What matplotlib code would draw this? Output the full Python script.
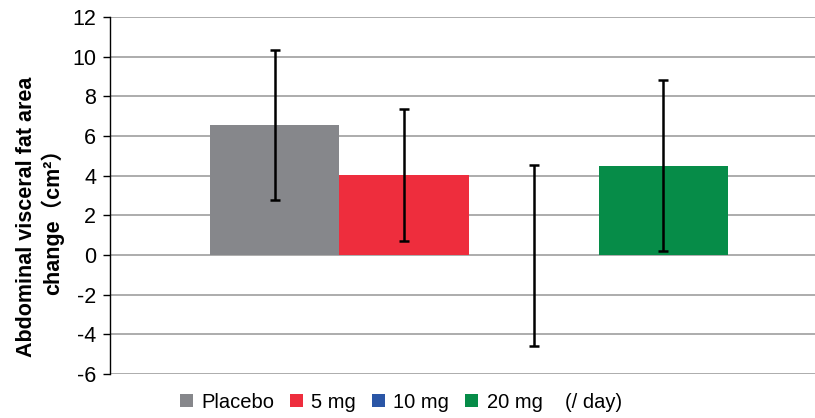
import numpy as np
import matplotlib.pyplot as plt

plt.rcParams['font.family'] = ['Liberation Sans', 'Noto Sans CJK JP', 'DejaVu Sans']

# datos
groups = ["Placebo", "5 mg", "10 mg", "20 mg"]
means = [6.55, 4.03, -0.02, 4.5]
errs = [3.79, 3.31, 4.55, 4.3]
colors = ["#86878B", "#EE2D3D", "#2A56A6", "#068C48"]
yticks = [-6, -4, -2, 0, 2, 4, 6, 8, 10, 12]

fig = plt.figure(figsize=(8.15, 4.18), dpi=100)
ax = fig.add_axes([110/815, 44/418, 705/815, 357/418])

x = np.arange(len(groups))
for i in range(len(groups)):
    ax.bar(x[i], means[i], width=1.0, color=colors[i], label=groups[i], zorder=2)
ax.errorbar(x, means, yerr=errs, fmt='none', ecolor='black', elinewidth=1.8,
            capsize=3.5, capthick=1.8, zorder=3)

ax.set_xlim(-1.27, 4.17)
ax.set_ylim(-6, 12)
ax.set_yticks(yticks)
ax.set_yticklabels([str(t) for t in yticks], fontsize=15.5)
ax.set_xticks([])
for t in yticks:
    ax.axhline(t, color='#A6A6A6', lw=1.3, zorder=1)
for s in ['top', 'right', 'bottom']:
    ax.spines[s].set_visible(False)
ax.spines['left'].set_color('black')
ax.spines['left'].set_linewidth(1.0)
ax.tick_params(axis='y', direction='out', length=5, width=1.0, pad=5)

fig.text(40/815, 1 - 217/418, "Abdominal visceral fat area\nchange\uff08cm\u00b2\uff09",
         rotation=90, ha='center', va='center', fontsize=15.5, fontweight='bold',
         linespacing=1.15)

handles, labels = ax.get_legend_handles_labels()
leg = fig.legend(handles, labels, loc='center left', bbox_to_anchor=(180/815, 1 - 402/418),
                 ncol=4, frameon=False, fontsize=14.5, handlelength=0.65, handleheight=0.65,
                 handletextpad=0.4, columnspacing=0.8, borderpad=0, borderaxespad=0)
fig.text(565/815, 1 - 402/418, "(/ day)", ha='left', va='center', fontsize=14.5)

fig.savefig("out.png", dpi=100)
